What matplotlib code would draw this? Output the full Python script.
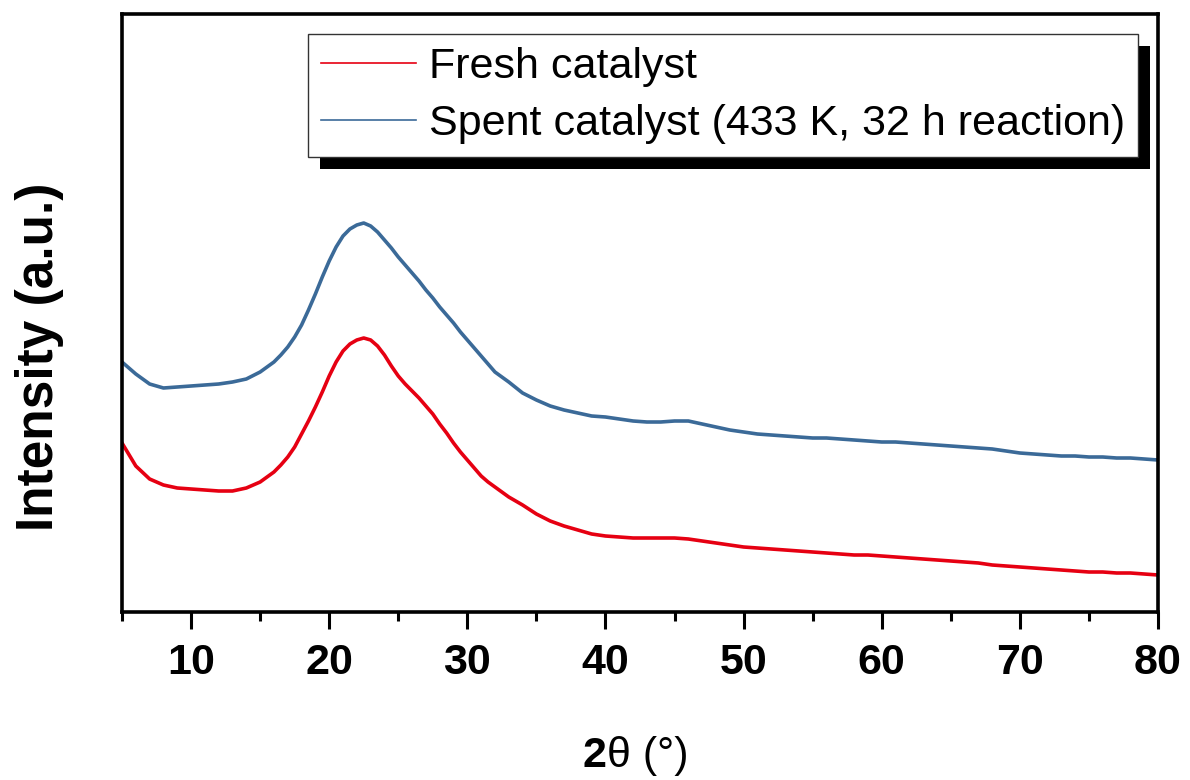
import matplotlib
matplotlib.use('Agg')
import matplotlib.pyplot as plt
from matplotlib.patches import Rectangle
from matplotlib.ticker import MultipleLocator, NullLocator

# --- data (2theta in degrees, intensity in a.u.) ---
# 1 deg steps, 0.5 deg steps across the amorphous hump (16-32 deg)
two_theta = (list(range(5, 16))
             + [16 + 0.5 * i for i in range(33)]
             + list(range(33, 81)))

fresh = [169, 146, 133, 127, 124, 123, 122, 121, 121, 124, 130,
         140, 147, 155, 165, 178, 191, 205, 220, 236, 250, 261,
         268, 272, 274, 272, 266, 257, 246, 236, 228, 221, 214,
         206, 198, 188, 179, 169, 160, 152, 144, 136, 130, 125,
         115, 107, 98, 91, 86, 82, 78, 76, 75, 74,
         74, 74, 74, 73, 71, 69, 67, 65, 64, 63,
         62, 61, 60, 59, 58, 57, 57, 56, 55, 54,
         53, 52, 51, 50, 49, 47, 46, 45, 44, 43,
         42, 41, 40, 40, 39, 39, 38, 37]

spent = [250, 238, 228, 224, 225, 226, 227, 228, 230, 233, 240,
         250, 257, 265, 275, 287, 302, 318, 335, 351, 365, 376,
         383, 387, 389, 386, 380, 372, 364, 355, 347, 339, 331,
         322, 314, 305, 297, 289, 280, 272, 264, 256, 248, 240,
         230, 219, 212, 206, 202, 199, 196, 195, 193, 191,
         190, 190, 191, 191, 188, 185, 182, 180, 178, 177,
         176, 175, 174, 174, 173, 172, 171, 170, 170, 169,
         168, 167, 166, 165, 164, 163, 161, 159, 158, 157,
         156, 156, 155, 155, 154, 154, 153, 152]

labels = ["Fresh catalyst", "Spent catalyst (433 K, 32 h reaction)"]
colors = ["#e60012", "#3b6a98"]

FONT = ['Liberation Sans', 'DejaVu Sans']

fig = plt.figure(figsize=(11.9, 7.8), dpi=100)
ax = fig.add_axes([122 / 1190, 1 - 612 / 780, 1036 / 1190, 598 / 780])

ax.plot(two_theta, fresh, color=colors[0], lw=2.6, label=labels[0])
ax.plot(two_theta, spent, color=colors[1], lw=2.6, label=labels[1])

ax.set_xlim(5, 80)
ax.set_ylim(0, 598)

ax.xaxis.set_major_locator(MultipleLocator(10))
ax.xaxis.set_minor_locator(MultipleLocator(5))
ax.yaxis.set_major_locator(NullLocator())
ax.yaxis.set_minor_locator(NullLocator())

for sp in ax.spines.values():
    sp.set_linewidth(2.6)

ax.tick_params(axis='x', which='major', direction='out', length=12, width=2.2, pad=10)
ax.tick_params(axis='x', which='minor', direction='out', length=6.5, width=2.2)
for t in ax.get_xticklabels():
    t.set_fontfamily(FONT)
    t.set_fontweight('bold')
    t.set_fontsize(31)

# y label
fig.text(40 / 1190, 1 - 357 / 780, "Intensity (a.u.)", rotation=90,
         ha='center', va='center', fontsize=37, fontweight='bold', family=FONT)

# x label: bold "2", regular "θ (°)"
fig.text(606 / 1190, 1 - 756 / 780, "2", ha='right', va='center',
         fontsize=31, fontweight='bold', family=FONT)
fig.text(607 / 1190, 1 - 756 / 780, "θ (°)", ha='left', va='center',
         fontsize=31, family=FONT)

leg = ax.legend(loc='upper right', bbox_to_anchor=((1138 - 122) / 1036, (612 - 34) / 598),
                borderaxespad=0, fancybox=False, framealpha=1, edgecolor='#333333',
                handlelength=2.2, handletextpad=0.3, borderpad=0.3, labelspacing=0.4,
                prop={'family': FONT, 'size': 31})
leg.get_frame().set_linewidth(1.0)
leg.set_zorder(6)
for h in leg.get_lines():
    h.set_linewidth(1.2)

# drop shadow behind the legend box
fig.canvas.draw()
bb = leg.get_frame().get_window_extent()
shadow = Rectangle((bb.x0 + 12, bb.y0 - 12), bb.width, bb.height, transform=None,
                   facecolor='black', edgecolor='none', zorder=5, clip_on=False)
ax.add_artist(shadow)

fig.savefig("out.png", dpi=100)
